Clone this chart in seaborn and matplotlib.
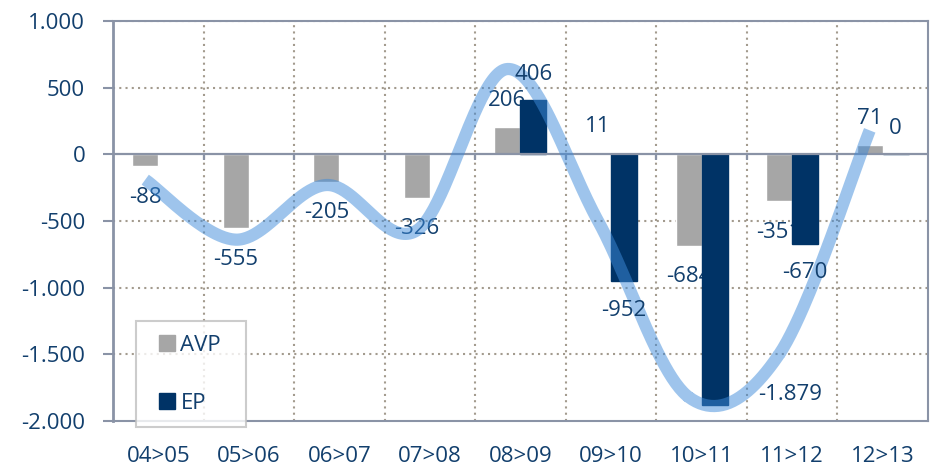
import numpy as np
import pandas as pd
import matplotlib
matplotlib.use("Agg")
import matplotlib.pyplot as plt
import seaborn as sns
from matplotlib.lines import Line2D
from matplotlib.ticker import FuncFormatter, FixedLocator

# ---------------- data ----------------
categories = ["04>05", "05>06", "06>07", "07>08", "08>09", "09>10", "10>11", "11>12", "12>13"]
avp = [-88, -555, -205, -326, 206, 11, -684, -351, 71]
ep = [np.nan, np.nan, np.nan, np.nan, 406, -952, -1879, -670, 0]
# smoothed trend curve (at each category)
trend = [-190, -640, -230, -570, 640, -500, -1820, -1500, 180]

TXT = "#123f6d"
AXC = "#8a93a6"
GRID = "#a39b8e"
C_AVP = "#a6a6a6"
C_EP = "#003366"
FS = 16

sns.set_theme(style="white")
plt.rcParams["font.family"] = ["Open Sans", "DejaVu Sans"]


def fmt_thousands(v, pos=None):
    return f"{int(round(v)):,}".replace(",", ".")


def catmull_rom(xs, ys, n=50):
    pts = np.column_stack([xs, ys]).astype(float)
    pts = np.vstack([pts[0], pts, pts[-1]])
    out = []
    t = np.linspace(0, 1, n)[:, None]
    for i in range(1, len(pts) - 2):
        p0, p1, p2, p3 = pts[i - 1], pts[i], pts[i + 1], pts[i + 2]
        seg = 0.5 * ((2 * p1) + (-p0 + p2) * t
                     + (2 * p0 - 5 * p1 + 4 * p2 - p3) * t ** 2
                     + (-p0 + 3 * p1 - 3 * p2 + p3) * t ** 3)
        out.append(seg)
    return np.vstack(out)


df = pd.DataFrame({
    "cat": categories * 2,
    "serie": ["AVP"] * len(categories) + ["EP"] * len(categories),
    "value": avp + ep,
})

fig = plt.figure(figsize=(9.39, 4.68), dpi=100)
ax = fig.add_axes([0.1203, 0.1004, 0.868, 0.8547])

bar_w = 0.574
sns.barplot(data=df, x="cat", y="value", hue="serie", order=categories,
            hue_order=["AVP", "EP"], palette=[C_AVP, C_EP], width=bar_w,
            gap=0, dodge=True, legend=False, ax=ax, saturation=1, zorder=1)

# EP bars above the AVP labels
for p in ax.containers[1]:
    p.set_zorder(1.6)
    p.set_edgecolor(C_EP)
    p.set_linewidth(1.0)

ax.set_ylim(-2000, 1000)
ax.set_xlim(-0.5, len(categories) - 0.5)

# trend curve, located on the AVP bar positions
off = bar_w / 4
xs = np.arange(len(categories)) - off
curve = catmull_rom(xs, trend)
ax.plot(curve[:, 0], curve[:, 1], color="#3e8bda", alpha=0.5, lw=8.8,
        solid_capstyle="butt", zorder=2)

# data labels
for i, v in enumerate(avp):
    dy = 26 if v >= 0 else -31
    ax.annotate(fmt_thousands(v), (i - off, v), xytext=(0, dy),
                textcoords="offset pixels", ha="center", va="center",
                fontsize=FS, color=TXT, zorder=1.5)
for i, v in enumerate(ep):
    if np.isnan(v):
        continue
    dx, dy = (0, 26) if v >= 0 else (0, -29)
    if v < -1500:
        dx, dy = (76, 10)
    ax.annotate(fmt_thousands(v), (i + off, v), xytext=(dx, dy),
                textcoords="offset pixels", ha="center", va="center",
                fontsize=FS, color=TXT, zorder=3)

# grid
ax.yaxis.set_major_locator(FixedLocator([-2000, -1500, -1000, -500, 0, 500, 1000]))
ax.yaxis.set_major_formatter(FuncFormatter(fmt_thousands))
for y in [-1500, -1000, -500, 500, 1000]:
    ax.axhline(y, color=GRID, lw=1.5, ls=(0, (1, 2)), zorder=0.5)
for b in np.arange(0.5, len(categories) - 1, 1.0):
    ax.axvline(b, color=GRID, lw=1.5, ls=(0, (1, 2)), zorder=0.5)

# zero line with small category ticks
ax.axhline(0, color=AXC, lw=1.6, zorder=1.7)
ax.vlines(np.arange(0.5, len(categories) - 1, 1.0), -40, 0, color=AXC, lw=1.6, zorder=1.7)

for s in ax.spines.values():
    s.set_visible(True)
    s.set_color(AXC)
    s.set_linewidth(1.5)
ax.spines["left"].set_linewidth(2)

ax.tick_params(axis="y", which="major", length=7, width=1.5, color=AXC,
               labelsize=FS, labelcolor=TXT, pad=13, left=True)
ax.tick_params(axis="x", length=0, labelsize=FS, labelcolor=TXT, pad=18)
ax.set_xlabel("")
ax.set_ylabel("")

handles = [Line2D([], [], ls="none", marker="s", markersize=11.5, color=c,
                  markeredgecolor=c, label=lab)
           for c, lab in [(C_AVP, "AVP"), (C_EP, "EP")]]
leg = fig.legend(handles=handles, loc="lower left",
                 bbox_to_anchor=(0.1448, 0.0876, 0.117, 0.246), mode="expand",
                 bbox_transform=fig.transFigure, frameon=True, fancybox=False,
                 fontsize=FS, handlelength=1.6, handletextpad=-0.2,
                 labelspacing=1.66, borderpad=0.6, borderaxespad=0)
leg.get_frame().set_edgecolor("#c0c0c0")
leg.get_frame().set_linewidth(1.5)
for t in leg.get_texts():
    t.set_color(TXT)

fig.savefig("out.png", dpi=100)
